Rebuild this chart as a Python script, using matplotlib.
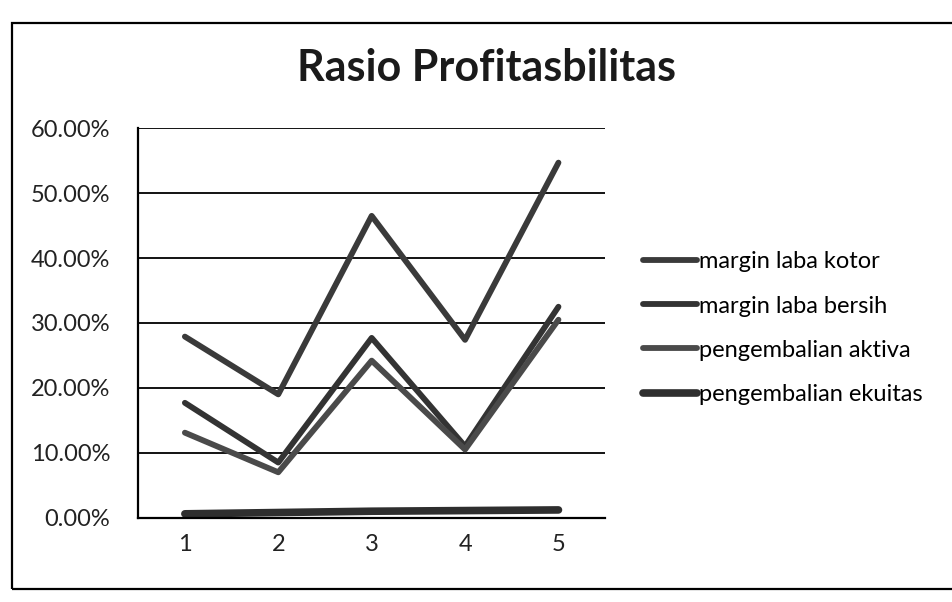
import matplotlib
matplotlib.use("Agg")
import matplotlib.pyplot as plt
from matplotlib.patches import Rectangle
from matplotlib.ticker import PercentFormatter

plt.rcParams['font.family'] = ['Lato', 'DejaVu Sans']

# data
years = [1, 2, 3, 4, 5]
margin_laba_kotor = [27.9, 19.0, 46.5, 27.4, 54.7]
margin_laba_bersih = [17.7, 8.5, 27.7, 11.0, 32.5]
pengembalian_aktiva = [13.1, 7.0, 24.2, 10.5, 30.5]
pengembalian_ekuitas = [0.6, 0.8, 1.0, 1.1, 1.2]
names = ['margin laba kotor', 'margin laba bersih',
         'pengembalian aktiva', 'pengembalian ekuitas']
series = [margin_laba_kotor, margin_laba_bersih,
          pengembalian_aktiva, pengembalian_ekuitas]
colors = ['#3a3a3a', '#333333', '#4a4a4a', '#2e2e2e']
widths = [4.2, 4.2, 4.2, 5.5]

fig = plt.figure(figsize=(9.53, 6.02), dpi=100)
ax = fig.add_axes([0.145, 0.14, 0.49, 0.647])

# outer chart-area frame
fig.patches.append(Rectangle((0.013, 0.022), 1.1, 0.94, transform=fig.transFigure,
                             fill=False, edgecolor='black', linewidth=1.6))

for vals, name, c, lw in zip(series, names, colors, widths):
    ax.plot(years, vals, color=c, linewidth=lw, label=name,
            solid_capstyle='round')

ax.set_xlim(0.5, 5.5)
ax.set_ylim(0, 60)
ax.set_yticks(range(0, 61, 10))
ax.yaxis.set_major_formatter(PercentFormatter(decimals=2))
ax.set_xticks(years)
ax.tick_params(axis='both', length=0, labelsize=17, colors='#222222')
ax.tick_params(axis='x', pad=12)
ax.tick_params(axis='y', pad=20)
ax.grid(axis='y', color='black', linewidth=1.3)
ax.set_axisbelow(True)
for s in ['top', 'right']:
    ax.spines[s].set_visible(False)
for s in ['left', 'bottom']:
    ax.spines[s].set_linewidth(1.6)

fig.text(0.51, 0.887, 'Rasio Profitasbilitas', ha='center', va='center',
         fontsize=31, fontweight='bold', color='#1a1a1a')

fig.legend(loc='center left', bbox_to_anchor=(0.652, 0.455), frameon=False,
           fontsize=17, handlelength=2.3, handletextpad=0.1, labelspacing=0.98)

fig.savefig('out.png', dpi=100)
